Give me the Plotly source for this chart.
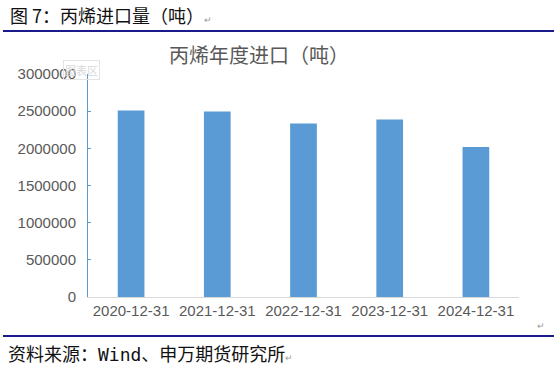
import plotly.graph_objects as go

categories = ["2020-12-31", "2021-12-31", "2022-12-31", "2023-12-31", "2024-12-31"]
imports_tons = [2509000, 2496000, 2335000, 2389000, 2017000]
y_tick_values = [0, 500000, 1000000, 1500000, 2000000, 2500000, 3000000]
y_tick_labels = ["0", "500000", "1000000", "1500000", "2000000", "2500000", "3000000"]

CJK = "Noto Sans CJK SC"
NUM = "Liberation Sans, Arial, sans-serif"
GRAY = "#595959"

W, H = 554, 386
pl, pr, pt, pb = 88, 35, 74, 89
pw, ph = W - pl - pr, H - pt - pb


def px(x):
    return (x - pl) / pw


def py(y_from_top):
    return (H - y_from_top - pb) / ph


fig = go.Figure()
fig.add_trace(go.Bar(
    x=categories, y=imports_tons,
    marker=dict(color="#5B9BD5", line=dict(width=0)),
    width=0.31,
))

fig.update_layout(
    width=W, height=H,
    margin=dict(l=pl, r=pr, t=pt, b=pb),
    paper_bgcolor="white", plot_bgcolor="white",
    showlegend=False,
    xaxis=dict(
        type="category",
        showline=True, linecolor="#D9D9D9", linewidth=1,
        showgrid=False, ticks="",
        tickfont=dict(family=NUM, size=15, color=GRAY),
    ),
    yaxis=dict(
        range=[0, 3000000],
        tickvals=y_tick_values, ticktext=y_tick_labels,
        showline=True, linecolor="#5B9BD5", linewidth=1,
        ticks="inside", ticklen=3, tickcolor="#5B9BD5",
        showgrid=False, zeroline=False,
        tickfont=dict(family=NUM, size=15, color=GRAY),
        ticklabelstandoff=8,
    ),
    annotations=[
        dict(text="图表区", x=px(81), y=py(70), xref="paper", yref="paper", showarrow=False,
             font=dict(family=CJK, size=11, color="#D8D8D8"),
             bordercolor="#E4E4E4", borderwidth=1, borderpad=1,
             xanchor="center", yanchor="middle"),
        dict(text="丙烯年度进口（吨）", x=px(259), y=py(55), xref="paper", yref="paper",
             showarrow=False, font=dict(family=CJK, size=20, color=GRAY),
             xanchor="center", yanchor="middle"),
        dict(text="图 7：丙烯进口量（吨）<span style='font-size:9px;color:#999999'>↵</span>",
             x=px(8), y=py(15), xref="paper", yref="paper", showarrow=False,
             font=dict(family=CJK, size=18, color="#111111"),
             xanchor="left", yanchor="middle"),
        dict(text="资料来源：<span style='font-family:DejaVu Sans Mono'>Wind</span>、申万期货研究所"
                  "<span style='font-size:9px;color:#999999'>↵</span>",
             x=px(6), y=py(353), xref="paper", yref="paper", showarrow=False,
             font=dict(family=CJK, size=18, color="#111111"),
             xanchor="left", yanchor="middle"),
        dict(text="↵", x=px(541), y=py(325), xref="paper", yref="paper", showarrow=False,
             font=dict(family=CJK, size=9, color="#999999"),
             xanchor="center", yanchor="middle"),
    ],
    shapes=[
        dict(type="line", xref="paper", yref="paper", x0=px(3), x1=px(554), y0=py(31), y1=py(31),
             line=dict(color="#1A1A8C", width=2)),
        dict(type="line", xref="paper", yref="paper", x0=px(3), x1=px(554), y0=py(336), y1=py(336),
             line=dict(color="#1A1A8C", width=2)),
    ],
)

fig.write_html("out.html", config={"displayModeBar": False},
               post_script="document.body.style.margin='0';")
